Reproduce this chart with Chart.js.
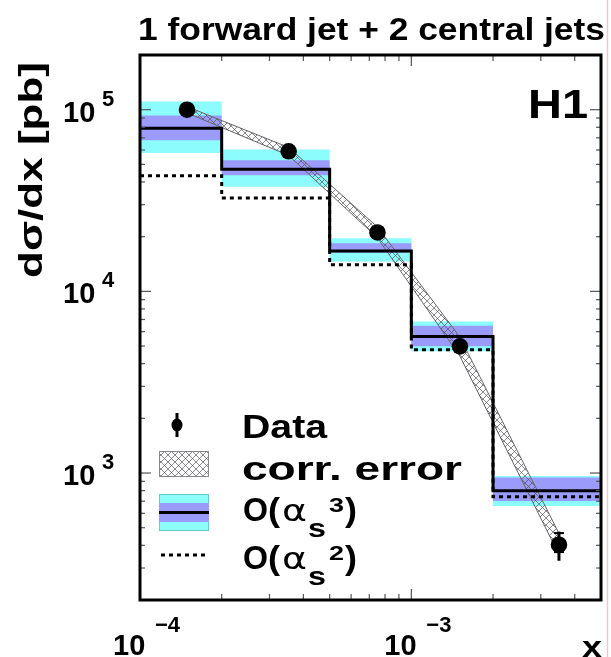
<!DOCTYPE html>
<html><head><meta charset="utf-8">
<script src="https://cdn.jsdelivr.net/npm/chart.js@4/dist/chart.umd.min.js"></script>
<style>html,body{margin:0;padding:0;background:#fff;overflow:hidden}#wrap{width:611px;height:657px;position:relative}</style>
</head><body><div id="wrap"><canvas id="c" width="611" height="657"></canvas></div>
<script>
// ---- data ----
const binEdges = [1e-4, 2e-4, 5e-4, 1e-3, 2e-3, 5e-3];
const nlo3     = [7.9e4, 4.7e4, 1.67e4, 5.65e3, 800];     // O(as^3) central
const purpleHi = [9.3e4, 5.27e4, 1.84e4, 6.47e3, 944];
const purpleLo = [6.78e4, 4.35e4, 1.63e4, 4.98e3, 701];
const cyanHi   = [1.11e5, 6.03e4, 1.96e4, 6.82e3, 963];
const cyanLo   = [5.78e4, 3.76e4, 1.46e4, 4.68e3, 659];
const lo2      = [4.33e4, 3.27e4, 1.40e4, 4.77e3, 741];   // O(as^2)
const dataX    = [1.49e-4, 3.53e-4, 7.5e-4, 1.51e-3, 3.5e-3];
const dataY    = [1.0e5, 5.9e4, 2.11e4, 4.98e3, 403];
const dataErrLo  = [9.7e4, 5.7e4, 2.04e4, 4.8e3, 329];
const dataErrHi  = [1.03e5, 6.1e4, 2.18e4, 5.15e3, 476];
const dataStatLo = [9.8e4, 5.8e4, 2.07e4, 4.9e3, 367];
const dataStatHi = [1.02e5, 6.0e4, 2.15e4, 5.05e3, 467];
const bandHi   = [1.04e5, 6.2e4, 2.26e4, 5.6e3, 465];
const bandLo   = [0.96e5, 5.6e4, 1.97e4, 4.4e3, 355];
const xMajorTicks  = [1e-4, 1e-3];
const xMajorLabels = ['\u22124', '\u22123'];
const xMinorTicks  = [2e-4,3e-4,4e-4,5e-4,6e-4,7e-4,8e-4,9e-4,2e-3,3e-3,4e-3];
const yMajorTicks  = [1e3, 1e4, 1e5];
const yMajorLabels = ['3', '4', '5'];
const yMinorTicks  = [300,400,500,600,700,800,900,2e3,3e3,4e3,5e3,6e3,7e3,8e3,9e3,2e4,3e4,4e4,5e4,6e4,7e4,8e4,9e4];
const titleText = '1 forward jet + 2 central jets';
const yTitle = 'd\u03c3/dx [pb]';
const xTitle = 'x';

const CYAN = '#8cfcfc', PURPLE = '#9b9bfb';
const FONT = '"Liberation Sans", Arial, Helvetica, sans-serif';

function steps(vals){ const pts = vals.map((v,i)=>({x:binEdges[i], y:v})); pts.push({x:binEdges[binEdges.length-1], y:vals[vals.length-1]}); return pts; }

const cv = document.getElementById('c');
const ctx0 = cv.getContext('2d');
const pc = document.createElement('canvas'); pc.width = 7; pc.height = 7;
const pg = pc.getContext('2d');
pg.strokeStyle = 'rgba(80,80,90,0.85)'; pg.lineWidth = 0.8;
pg.beginPath(); pg.moveTo(-1,-1); pg.lineTo(8,8); pg.moveTo(8,-1); pg.lineTo(-1,8); pg.stroke();
const hatch = ctx0.createPattern(pc, 'repeat');

function txt(ctx, s, x, y, size, opts={}){
  ctx.save();
  ctx.font = (opts.weight || 'bold') + ' ' + size + 'px ' + (opts.family || FONT);
  ctx.fillStyle = '#000'; ctx.textBaseline = 'alphabetic'; ctx.textAlign = 'left';
  let sx = opts.sx || 1;
  if (opts.width) sx = opts.width / ctx.measureText(s).width;
  ctx.translate(x, y);
  if (opts.rot) ctx.rotate(opts.rot);
  ctx.scale(sx, 1);
  ctx.fillText(s, 0, 0);
  ctx.restore();
}

const deco = {
  id: 'deco',
  afterDatasetsDraw(chart){
    const ctx = chart.ctx, xs = chart.scales.x, ys = chart.scales.y;
    ctx.save(); ctx.strokeStyle = '#000';
    dataX.forEach((xv,i)=>{
      const px = xs.getPixelForValue(xv);
      ctx.lineWidth = 3;
      ctx.beginPath(); ctx.moveTo(px, ys.getPixelForValue(dataErrLo[i])); ctx.lineTo(px, ys.getPixelForValue(dataErrHi[i])); ctx.stroke();
      ctx.lineWidth = 2;
      [dataStatLo[i], dataStatHi[i]].forEach(v=>{ const py = ys.getPixelForValue(v); ctx.beginPath(); ctx.moveTo(px-5, py); ctx.lineTo(px+5, py); ctx.stroke(); });
    });
    ctx.restore();
  },
  afterDraw(chart){
    const ctx = chart.ctx, xs = chart.scales.x, ys = chart.scales.y, a = chart.chartArea;
    ctx.save();
    ctx.strokeStyle = '#555'; ctx.lineWidth = 1.2;
    const tick = (x1,y1,x2,y2)=>{ctx.beginPath();ctx.moveTo(x1,y1);ctx.lineTo(x2,y2);ctx.stroke();};
    xMajorTicks.forEach(v=>{const p=xs.getPixelForValue(v); tick(p,a.bottom,p,a.bottom-11); tick(p,a.top,p,a.top+11);});
    xMinorTicks.forEach(v=>{const p=xs.getPixelForValue(v); tick(p,a.bottom,p,a.bottom-6); tick(p,a.top,p,a.top+6);});
    yMajorTicks.forEach(v=>{const p=ys.getPixelForValue(v); tick(a.left,p,a.left+11,p); tick(a.right,p,a.right-11,p);});
    yMinorTicks.forEach(v=>{const p=ys.getPixelForValue(v); tick(a.left,p,a.left+5,p); tick(a.right,p,a.right-5,p);});
    ctx.strokeStyle = '#000'; ctx.lineWidth = 3;
    ctx.strokeRect(a.left, a.top, a.right-a.left, a.bottom-a.top);
    ctx.restore();
    xMajorTicks.forEach((v,i)=>{const p=xs.getPixelForValue(v); txt(ctx,'10',p-27,655,29); txt(ctx,xMajorLabels[i],p+15,632,22);});
    yMajorTicks.forEach((v,i)=>{const p=ys.getPixelForValue(v); txt(ctx,'10',63,p+12,29); txt(ctx,yMajorLabels[i],102,p-4,22);});
    txt(ctx, titleText, 138, 40, 31, {width: 467});
    txt(ctx, 'H1', 528, 118, 40, {width: 60});
    txt(ctx, xTitle, 582, 657, 30, {sx: 1.2});
    txt(ctx, yTitle, 42, 278, 33, {width: 216, rot: -Math.PI/2});
    ctx.save();
    ctx.fillStyle = '#000'; ctx.strokeStyle = '#000'; ctx.lineWidth = 3;
    ctx.beginPath(); ctx.moveTo(177,413); ctx.lineTo(177,437); ctx.stroke();
    ctx.beginPath(); ctx.ellipse(177,425,5.5,6.5,0,0,Math.PI*2); ctx.fill();
    ctx.fillStyle = '#fff'; ctx.fillRect(159,451,50,26);
    ctx.fillStyle = hatch; ctx.fillRect(159,451,50,26);
    ctx.strokeStyle = '#888'; ctx.lineWidth = 1; ctx.strokeRect(159.5,451.5,49,25);
    ctx.fillStyle = CYAN; ctx.fillRect(159,494,50,37);
    ctx.strokeStyle = '#6cc'; ctx.strokeRect(159.5,494.5,49,36);
    ctx.fillStyle = PURPLE; ctx.fillRect(159,503,50,19);
    ctx.strokeStyle = '#000'; ctx.lineWidth = 3;
    ctx.beginPath(); ctx.moveTo(159,512.5); ctx.lineTo(209,512.5); ctx.stroke();
    ctx.setLineDash([4,4]);
    ctx.beginPath(); ctx.moveTo(161,555); ctx.lineTo(209,555); ctx.stroke();
    ctx.restore();
    txt(ctx, 'Data', 242, 438, 33, {width: 85});
    txt(ctx, 'corr. error', 242, 480, 33, {width: 220});
    [[ '3', 521], ['2', 569]].forEach(([pw, b])=>{
      txt(ctx, 'O', 243, b, 34, {width: 25});
      txt(ctx, '(', 268, b, 34, {width: 12});
      txt(ctx, '\u03b1', 282, b, 30, {width: 25, weight: 'normal', family: '"DejaVu Sans", sans-serif'});
      txt(ctx, 's', 308, b+16, 26, {width: 18});
      txt(ctx, pw, 329, b-9, 21, {width: 15});
      txt(ctx, ')', 345, b, 34, {width: 12});
    });
    ctx.save(); ctx.strokeStyle = '#f5c6c6'; ctx.lineWidth = 1.5;
    ctx.beginPath(); ctx.moveTo(607.5,0); ctx.lineTo(607.5,657); ctx.stroke(); ctx.restore();
  }
};

const stepBase = {stepped:'before', pointRadius:0, tension:0};
new Chart(cv, {
  type: 'line',
  data: { datasets: [
    {label:'Data', data: dataX.map((x,i)=>({x, y:dataY[i]})), showLine:false, pointRadius:8.3, pointBackgroundColor:'#000', pointBorderWidth:0, order:0},
    {label:'O(as2)', data: steps(lo2), ...stepBase, borderColor:'#000', borderWidth:3, borderDash:[4,4], fill:false, order:1},
    {label:'O(as3)', data: steps(nlo3), ...stepBase, borderColor:'#000', borderWidth:3, fill:false, order:2},
    {label:'bandHi', data: dataX.map((x,i)=>({x, y:bandHi[i]})), pointRadius:0, borderColor:'#666', borderWidth:1, tension:0, fill:'+1', backgroundColor: hatch, order:3},
    {label:'bandLo', data: dataX.map((x,i)=>({x, y:bandLo[i]})), pointRadius:0, borderColor:'#666', borderWidth:1, tension:0, fill:false, order:3},
    {label:'purpleHi', data: steps(purpleHi), ...stepBase, borderWidth:0, fill:'+1', backgroundColor:PURPLE, order:5},
    {label:'purpleLo', data: steps(purpleLo), ...stepBase, borderWidth:0, fill:false, order:5},
    {label:'cyanHi', data: steps(cyanHi), ...stepBase, borderWidth:0, fill:'+1', backgroundColor:CYAN, order:7},
    {label:'cyanLo', data: steps(cyanLo), ...stepBase, borderWidth:0, fill:false, order:7}
  ]},
  options: {
    responsive:false, animation:false, devicePixelRatio:1,
    layout:{padding:{left:140, right:10, top:55, bottom:57}},
    scales:{
      x:{type:'logarithmic', min:1e-4, max:5e-3, display:false},
      y:{type:'logarithmic', min:200, max:2e5, display:false}
    },
    plugins:{legend:{display:false}, tooltip:{enabled:false}, title:{display:false}}
  },
  plugins:[deco]
});
</script></body></html>
